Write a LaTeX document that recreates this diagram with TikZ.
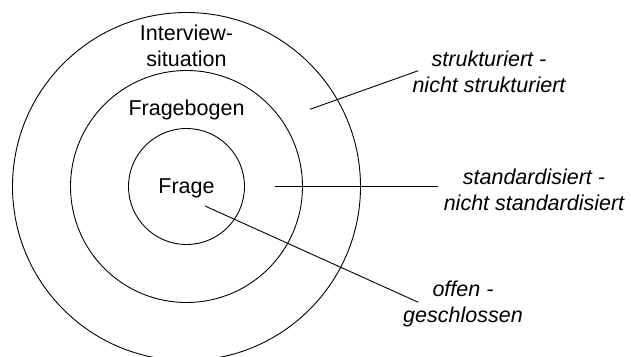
\documentclass[tikz,border=0pt]{standalone}
\usepackage{fontspec}
\setmainfont{Liberation Sans}
\begin{document}
\begin{tikzpicture}[x=1pt,y=-1pt,
  ring/.style={draw=black,line width=0.9pt,circle,minimum size=#1,inner sep=0pt},
  lbl/.style={align=center,inner sep=0pt,font=\fontsize{21.5}{26}\selectfont},
  ilbl/.style={align=center,inner sep=0pt,font=\fontsize{21.5}{26}\selectfont\itshape},
  conn/.style={draw=black,line width=0.9pt}]
\useasboundingbox (0,0) rectangle (631,356);
\fill[white] (0,0) rectangle (631,356);
\node[ring=348pt] (outer) at (186.5,186.5) {};
\node[ring=232pt] (middle) at (186.5,186.5) {};
\node[ring=116pt] (inner) at (186.5,186.5) {};
\node[lbl] (tInterview) at (186.5,46) {Interview-\\situation};
\node[lbl] (tBogen) at (186.5,110) {Fragebogen};
\node[lbl] (tFrage) at (186.5,188) {Frage};
\node[ilbl] (lStruk) at (489,72) {strukturiert -\\nicht strukturiert};
\node[ilbl] (lStand) at (534,189.5) {standardisiert -\\nicht standardisiert};
\node[ilbl] (lOffen) at (463,303.5) {offen -\\geschlossen};
\coordinate (s1) at (310,109.3);
\coordinate (e1) at (418.3,70.7);
\coordinate (s2) at (275,186);
\coordinate (e2) at (438.3,186);
\coordinate (s3) at (205,206);
\coordinate (e3) at (418.3,302.3);
\draw[conn] (s1) -- (e1);
\draw[conn] (s2) -- (e2);
\draw[conn] (s3) -- (e3);
\end{tikzpicture}
\end{document}
